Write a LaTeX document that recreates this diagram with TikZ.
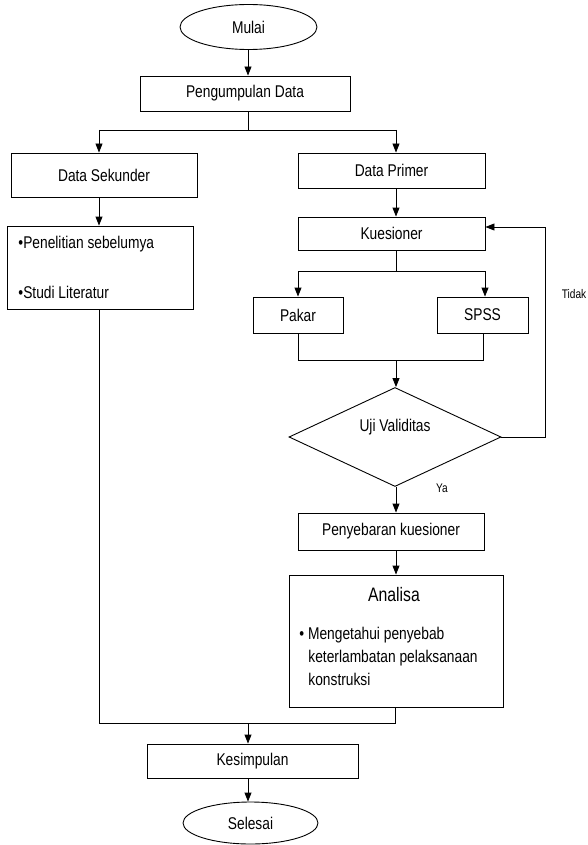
\documentclass[tikz,border=0pt]{standalone}
\usepackage{fontspec}
\setmainfont{Liberation Sans}[FakeStretch=0.81]
\usetikzlibrary{shapes.geometric,arrows.meta}
\begin{document}
\begin{tikzpicture}[x=1pt,y=-1pt,
  line width=0.9pt,
  font=\fontsize{17}{20}\selectfont,
  box/.style={draw, rectangle, inner sep=0pt},
  term/.style={draw, ellipse, inner sep=0pt},
  decision/.style={draw, diamond, inner sep=0pt},
  plain/.style={inner sep=0pt},
  arr/.style={-{Triangle[length=9pt,width=7pt]}},
  lbl/.style={inner sep=0pt, font=\fontsize{12.5}{14}\selectfont}]
\useasboundingbox (0,0) rectangle (587,845);

% nodes
\node[term, minimum width=137pt, minimum height=45pt] (mulai) at (248.5,27) {Mulai};
\node[box, minimum width=210pt, minimum height=35pt] (peng) at (245,93.5) {Pengumpulan Data};
\node[box, minimum width=186pt, minimum height=44pt] (sek) at (104,175) {Data Sekunder};
\node[box, minimum width=186pt, minimum height=83pt] (bul) at (100,267.5) {};
\node[plain, anchor=west] (b1) at (18,244) {\textbullet Penelitian sebelumya};
\node[plain, anchor=west] (b2) at (18,292) {\textbullet Studi Literatur};
\node[box, minimum width=187pt, minimum height=35pt] (prim) at (391.5,170.5) {Data Primer};
\node[box, minimum width=187pt, minimum height=33pt] (kues) at (391.5,233.5) {Kuesioner};
\node[box, minimum width=90pt, minimum height=36pt] (pakar) at (298,315) {Pakar};
\node[box, minimum width=91pt, minimum height=36pt] (spss) at (482.5,315) {SPSS};
\node[decision, minimum width=212pt, minimum height=99pt] (uji) at (395,437) {};
\node[plain] (ujit) at (395,427) {Uji Validitas};
\node[lbl] (tidak) at (574,294) {Tidak};
\node[lbl] (ya) at (442,488) {Ya};
\node[box, minimum width=186pt, minimum height=37pt] (peny) at (391,531.5) {Penyebaran kuesioner};
\node[box, minimum width=214pt, minimum height=132pt] (ana) at (396,641) {};
\node[plain, font=\fontsize{19.5}{22}\selectfont] (anat) at (394,595) {Analisa};
\node[plain, anchor=north west, align=left, font=\fontsize{17}{23}\selectfont] (anab) at (299,627)
  {\textbullet\ Mengetahui penyebab\\ \hspace*{9pt}keterlambatan pelaksanaan\\ \hspace*{9pt}konstruksi};
\node[box, minimum width=211pt, minimum height=34pt] (kes) at (252.5,761) {Kesimpulan};
\node[term, minimum width=135pt, minimum height=42pt] (sel) at (250.5,823) {Selesai};

% coordinates
\coordinate (c0) at (248,130);
\coordinate (cL) at (99,130);
\coordinate (cR) at (396,130);
\coordinate (k0) at (396,271);
\coordinate (kL) at (298,271);
\coordinate (kR) at (485,271);
\coordinate (jL) at (298,360);
\coordinate (jR) at (483,360);
\coordinate (jM) at (396,360);
\coordinate (fb) at (545,227);
\coordinate (bL) at (99,723);
\coordinate (bR) at (395,723);
\coordinate (bM) at (248,723);

% connectors
\draw[arr] (mulai.south -| c0) -- (peng.north -| c0);
\draw (peng.south -| c0) -- (c0);
\draw (cL) -- (cR);
\draw[arr] (cL) -- (sek.north -| cL);
\draw[arr] (cR) -- (prim.north -| cR);
\draw[arr] (sek.south -| cL) -- (bul.north -| cL);
\draw[arr] (prim.south -| cR) -- (kues.north -| cR);
\draw (kues.south -| k0) -- (k0);
\draw (kL) -- (kR);
\draw[arr] (kL) -- (pakar.north -| kL);
\draw[arr] (kR) -- (spss.north -| kR);
\draw (pakar.south -| jL) -- (jL) -- (jR) -- (spss.south -| jR);
\draw[arr] (jM) -- (uji.north -| jM);
\draw[arr] (uji.east) -| (fb) -- (fb -| kues.east);
\draw[arr] (uji.south -| jM) -- (peny.north -| jM);
\draw[arr] (peny.south -| jM) -- (ana.north -| jM);
\draw (bul.south -| bL) -- (bL) -- (bR) -- (ana.south -| bR);
\draw[arr] (bM) -- (kes.north -| bM);
\draw[arr] (kes.south -| bM) -- (sel.north -| bM);
\end{tikzpicture}
\end{document}
